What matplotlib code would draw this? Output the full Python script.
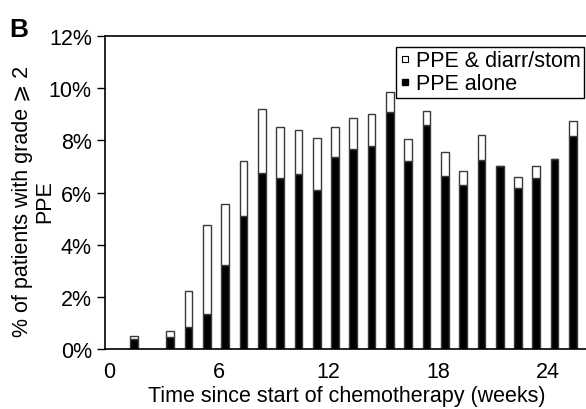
import matplotlib
matplotlib.use("Agg")
import matplotlib.pyplot as plt
from matplotlib.lines import Line2D
import numpy as np

plt.rcParams['font.family'] = ['Liberation Sans', 'DejaVu Sans']

weeks = [1, 3, 4, 5, 6, 7, 8, 9, 10, 11, 12, 13, 14, 15, 16, 17, 18, 19, 20, 21, 22, 23, 24, 25]
ppe_alone = [0.38, 0.47, 0.86, 1.35, 3.23, 5.08, 6.73, 6.55, 6.71, 6.09, 7.37, 7.67,
             7.79, 9.10, 7.20, 8.58, 6.62, 6.28, 7.24, 7.03, 6.19, 6.56, 7.28, 8.17]
ppe_combo = [0.12, 0.21, 1.38, 3.39, 2.32, 2.14, 2.46, 1.95, 1.69, 1.99, 1.13, 1.20,
             1.22, 0.77, 0.86, 0.56, 0.92, 0.54, 0.96, 0.00, 0.41, 0.45, 0.00, 0.59]
x_ticks = [0, 6, 12, 18, 24]
y_ticks = [0, 2, 4, 6, 8, 10, 12]
y_ticklabels = ["0%", "2%", "4%", "6%", "8%", "10%", "12%"]
ylabel_lines = ["% of patients with grade \u2a7e 2", "PPE"]

W, H = 586, 410
FS = 15.5
fig = plt.figure(figsize=(W / 100, H / 100), dpi=100)
ax_l, ax_r, ax_t, ax_b = 105, 589, 37, 350
ax = fig.add_axes([ax_l / W, (H - ax_b) / H, (ax_r - ax_l) / W, (ax_b - ax_t) / H])

px_per_week = 18.3
x0_px = 109
ax.set_xlim((ax_l - x0_px) / px_per_week, (ax_r - x0_px) / px_per_week)
ax.set_ylim(0, 12)

pos = np.array(weeks) + 0.35
edge = '#3a3a3a'
ax.bar(pos, ppe_alone, width=0.42, color='black', edgecolor=edge, linewidth=1.0, zorder=2)
ax.bar(pos, ppe_combo, width=0.42, bottom=ppe_alone, color='white', edgecolor=edge,
       linewidth=1.0, zorder=2)

ax.set_xticks(x_ticks)
ax.set_xticklabels([str(t) for t in x_ticks])
ax.set_yticks(y_ticks)
ax.set_yticklabels(y_ticklabels)
ax.tick_params(axis='x', length=0, pad=9, labelsize=FS)
ax.tick_params(axis='y', length=5.5, width=1, pad=4, labelsize=FS, direction='out')

for s in ['left', 'top', 'bottom']:
    ax.spines[s].set_linewidth(1.2)
    ax.spines[s].set_color('black')
ax.spines['right'].set_visible(False)

ax.set_xlabel("Time since start of chemotherapy (weeks)", fontsize=FS, labelpad=2)
fig.text(23 / W, 1 - 201 / H, ylabel_lines[0], fontsize=FS,
         rotation=90, ha='center', va='center')
fig.text(45 / W, 1 - 202 / H, ylabel_lines[1], fontsize=FS,
         rotation=90, ha='center', va='center')

handles = [
    Line2D([], [], marker='s', linestyle='none', markersize=4.5, markerfacecolor='white',
           markeredgecolor='black', markeredgewidth=0.8),
    Line2D([], [], marker='s', linestyle='none', markersize=4.5, markerfacecolor='black',
           markeredgecolor='black'),
]
leg = ax.legend(handles, ["PPE & diarr/stom", "PPE alone"], loc='upper left',
                bbox_to_anchor=(396 / W, (H - 48) / H), bbox_transform=fig.transFigure,
                fontsize=FS, frameon=True, fancybox=False, edgecolor='black',
                borderpad=0.15, borderaxespad=0, handlelength=0.5, handletextpad=0.3,
                labelspacing=0.1, framealpha=1)
leg.get_frame().set_linewidth(1.0)

fig.text(9 / W, (H - 37) / H, "B", fontsize=19, fontweight='bold', ha='left', va='baseline')

fig.savefig("out.png", dpi=100)
